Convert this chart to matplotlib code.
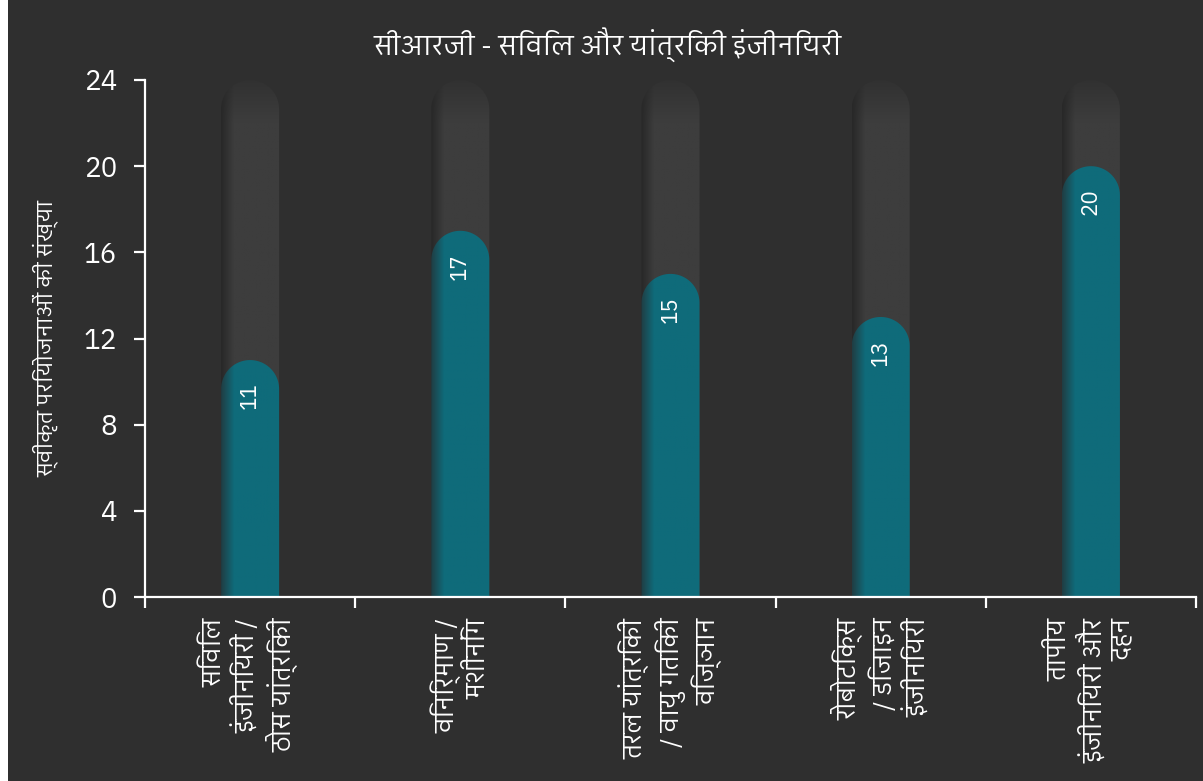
import numpy as np
import matplotlib
matplotlib.use("Agg")
import matplotlib.pyplot as plt
from matplotlib import font_manager
from matplotlib.path import Path
from matplotlib.patches import PathPatch, Rectangle

# chart data
categories = [
    "सिविल\nइंजीनियरी /\nठोस यांत्रिकी",
    "विनिर्माण /\nमशीनिंग",
    "तरल यांत्रिकी\n/ वायु गतिकी\nविज्ञान",
    "रोबोटिक्स\n/ डिजाइन\nइंजीनियरी",
    "तापीय\nइंजीनियरी और\nदहन",
]
approved = [11, 17, 15, 13, 20]
y_max = 24
y_ticks = [0, 4, 8, 12, 16, 20, 24]
title = "सीआरजी - सिविल और यांत्रिकी इंजीनियरी"
y_label = "स्वीकृत परियोजनाओं की संख्या"

BG = "#2f2f2f"
TEAL = np.array([15, 107, 122]) / 255
TEAL_EDGE = np.array([32, 62, 68]) / 255
TRACK = np.array([61, 61, 61]) / 255
TRACK_EDGE = np.array([40, 40, 40]) / 255


def pick_font(candidates):
    names = {f.name for f in font_manager.fontManager.ttflist}
    for c in candidates:
        if c in names:
            return c
    return "DejaVu Sans"


deva_font = pick_font(["IBM Plex Sans Devanagari", "Noto Sans Devanagari", "Hind", "FreeSans"])
latin_font = pick_font(["IBM Plex Sans", "Noto Sans", "Open Sans"])
plt.rcParams["font.family"] = [deva_font, latin_font, "DejaVu Sans"]


def rounded_bar_path(xc, half_w, top, ry):
    # rectangle from 0 with an elliptical cap so it looks round on screen
    base = top - ry
    t = np.linspace(np.pi, 0, 60)
    arc = np.column_stack([xc + half_w * np.cos(t), base + ry * np.sin(t)])
    verts = np.vstack([[xc - half_w, 0], [xc - half_w, base], arc,
                       [xc + half_w, base], [xc + half_w, 0], [xc - half_w, 0]])
    codes = [Path.MOVETO] + [Path.LINETO] * (len(verts) - 2) + [Path.CLOSEPOLY]
    return Path(verts, codes)


def gradient_image(main, edge, nx=64, ny=200, top_shade=None):
    # horizontal shading: darker on the left edge of the bar
    fx = np.clip(np.linspace(0, 1, nx) / 0.22, 0, 1)[None, :, None]
    img = edge + (main - edge) * fx
    img = np.repeat(img, ny, axis=0)
    if top_shade is not None:
        # darker toward the top of the cap (row 0 is the top)
        fy = np.clip(np.linspace(0, 1, ny) / top_shade, 0, 1)[:, None, None]
        img = edge + (img - edge) * (0.45 + 0.55 * fy)
    return img


fig = plt.figure(figsize=(12.03, 7.81), dpi=100, facecolor="white")
fig.patches.append(Rectangle((8 / 1203, 0), 1 - 8 / 1203, 1, transform=fig.transFigure,
                             facecolor=BG, edgecolor="none", zorder=-5))

ax = fig.add_axes([145 / 1203, 1 - 597 / 781, (1196 - 145) / 1203, (597 - 80) / 781])
ax.set_facecolor(BG)
ax.set_zorder(1)

n = len(categories)
x = np.arange(n)
bar_w = 0.276
half_w = bar_w / 2
ax.set_xlim(-0.5, n - 0.5)
ax.set_ylim(0, y_max)

# radius of the cap in y data units, from pixel scale of the axes
bbox = ax.get_window_extent()
px_x = bbox.width / n
px_y = bbox.height / y_max
ry = half_w * px_x / px_y

for xc, val in zip(x, approved):
    # background track up to the axis maximum
    track = PathPatch(rounded_bar_path(xc, half_w, y_max, ry), facecolor="none",
                      edgecolor="none", transform=ax.transData)
    ax.add_patch(track)
    im = ax.imshow(gradient_image(TRACK, TRACK_EDGE, top_shade=0.08),
                   extent=[xc - half_w, xc + half_w, 0, y_max], aspect="auto",
                   interpolation="bilinear", zorder=1)
    im.set_clip_path(track)

    # value bar
    bar = PathPatch(rounded_bar_path(xc, half_w, val, ry), facecolor="none",
                    edgecolor="none", transform=ax.transData)
    ax.add_patch(bar)
    im2 = ax.imshow(gradient_image(TEAL, TEAL_EDGE),
                    extent=[xc - half_w, xc + half_w, 0, val], aspect="auto",
                    interpolation="bilinear", zorder=2)
    im2.set_clip_path(bar)

    ax.annotate(str(val), xy=(xc, val), xytext=(0, -16), textcoords="offset points",
                rotation=90, ha="center", va="top", color="white", fontsize=16, zorder=3)

ax.set_xlim(-0.5, n - 0.5)
ax.set_ylim(0, y_max)
ax.set_aspect("auto")

for side in ["top", "right"]:
    ax.spines[side].set_visible(False)
for side in ["left", "bottom"]:
    ax.spines[side].set_color("white")
    ax.spines[side].set_linewidth(1.6)

ax.set_yticks(y_ticks)
ax.tick_params(axis="y", colors="white", labelsize=20, length=8, width=1.6, pad=12)

# ticks between categories, labels at the centres
ax.set_xticks(np.arange(n + 1) - 0.5)
ax.set_xticklabels([])
ax.set_xticks(x, categories, minor=True)
ax.tick_params(axis="x", which="major", colors="white", length=8, width=1.6)
ax.tick_params(axis="x", which="minor", length=0, pad=15, labelsize=18, labelcolor="white")
for lbl in ax.get_xticklabels(minor=True):
    lbl.set_rotation(90)
    lbl.set_va("top")
    lbl.set_ha("center")
    lbl.set_multialignment("right")
    lbl.set_linespacing(1.25)

ax.set_ylabel(y_label, color="white", fontsize=15.5, labelpad=18)
fig.text(0.505, 1 - 45 / 781, title, ha="center", va="center", color="white", fontsize=19.5)

fig.savefig("out.png", dpi=100, facecolor="white")
